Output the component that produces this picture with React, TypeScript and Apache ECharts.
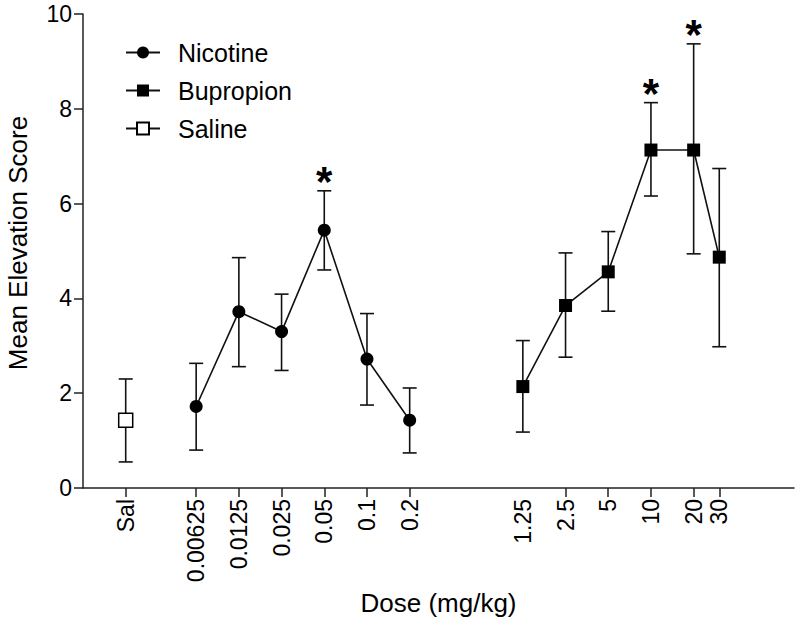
import React, { useEffect, useRef } from "react";
import * as echarts from "echarts";

// Dose labels along the x axis and their slot on the (hidden-value) x scale
const doseLabels = ["Sal", "0.00625", "0.0125", "0.025", "0.05", "0.1", "0.2", "1.25", "2.5", "5", "10", "20", "30"];
const doseSlots = [1, 2.65, 3.65, 4.65, 5.65, 6.65, 7.65, 10.3, 11.3, 12.3, 13.3, 14.3, 14.9];
const untickedDoses = ["1.25"];

const salineDoses = ["Sal"];
const salineMean = [1.43];
const salineLow = [0.55];
const salineHigh = [2.3];

const nicotineDoses = ["0.00625", "0.0125", "0.025", "0.05", "0.1", "0.2"];
const nicotineMean = [1.72, 3.72, 3.3, 5.44, 2.72, 1.43];
const nicotineLow = [0.8, 2.56, 2.48, 4.6, 1.75, 0.74];
const nicotineHigh = [2.63, 4.86, 4.09, 6.27, 3.68, 2.11];

const bupropionDoses = ["1.25", "2.5", "5", "10", "20", "30"];
const bupropionMean = [2.14, 3.85, 4.56, 7.13, 7.13, 4.87];
const bupropionLow = [1.18, 2.76, 3.73, 6.16, 4.94, 2.98];
const bupropionHigh = [3.11, 4.96, 5.41, 8.13, 9.37, 6.74];

const significantDoses = ["0.05", "10", "20"];

const yTicks = [0, 2, 4, 6, 8, 10];

const FONT = "'Liberation Sans', Arial, Helvetica, sans-serif";

const slotOf = (d: string) => doseSlots[doseLabels.indexOf(d)];

export default function App() {
  const ref = useRef<HTMLDivElement>(null);

  useEffect(() => {
    if (!ref.current) return;
    const chart = echarts.init(ref.current, null, { renderer: "svg" });

    const labelBySlot: Record<string, string> = {};
    doseSlots.forEach((s, i) => (labelBySlot[s.toFixed(2)] = doseLabels[i]));
    const tickSlots = doseSlots.filter((_, i) => !untickedDoses.includes(doseLabels[i]));

    const pts = (doses: string[], means: number[]) => doses.map((d, i) => [slotOf(d), means[i]]);
    const errs = (doses: string[], lo: number[], hi: number[]) => doses.map((d, i) => [slotOf(d), lo[i], hi[i]]);

    const allErr = [
      ...errs(salineDoses, salineLow, salineHigh),
      ...errs(nicotineDoses, nicotineLow, nicotineHigh),
      ...errs(bupropionDoses, bupropionLow, bupropionHigh),
    ];
    const allHigh: Record<string, number> = {};
    salineDoses.forEach((d, i) => (allHigh[d] = salineHigh[i]));
    nicotineDoses.forEach((d, i) => (allHigh[d] = nicotineHigh[i]));
    bupropionDoses.forEach((d, i) => (allHigh[d] = bupropionHigh[i]));
    const starData = significantDoses.map((d) => [slotOf(d), allHigh[d]]);

    const lineColor = "#111";

    chart.setOption({
      animation: false,
      backgroundColor: "#fff",
      textStyle: { fontFamily: FONT },
      grid: { left: 83, right: 6, top: 14, bottom: 130, containLabel: false, outerBoundsMode: "none" },
      legend: {
        data: ["Nicotine", "Bupropion", "Saline"],
        orient: "vertical",
        left: 120,
        top: 35,
        itemWidth: 34,
        itemHeight: 15,
        itemGap: 13,
        textStyle: { fontSize: 25, color: "#000", fontFamily: FONT, padding: [0, 0, 0, 13] },
      },
      xAxis: {
        type: "value",
        min: 0,
        max: 16.65,
        name: "Dose (mg/kg)",
        nameLocation: "middle",
        nameGap: 93,
        nameTextStyle: { fontSize: 26, color: "#000", fontFamily: FONT },
        axisLine: { show: true, onZero: false, lineStyle: { color: "#222", width: 1.5 } },
        axisTick: { show: true, length: 9, customValues: tickSlots, lineStyle: { color: "#222", width: 1.5 } },
        axisLabel: {
          customValues: doseSlots,
          rotate: 90,
          margin: 11,
          fontSize: 23,
          color: "#000",
          fontFamily: FONT,
          formatter: (v: number) => labelBySlot[Number(v).toFixed(2)] ?? "",
        },
        splitLine: { show: false },
      },
      yAxis: {
        type: "value",
        min: 0,
        max: 10,
        interval: 2,
        name: "Mean Elevation Score",
        nameLocation: "middle",
        nameGap: 52,
        nameTextStyle: { fontSize: 26, color: "#000", fontFamily: FONT, padding: [0, 0, 0, 16] },
        axisLine: { show: true, lineStyle: { color: "#222", width: 1.5 } },
        axisTick: { show: true, length: 9, lineStyle: { color: "#222", width: 1.5 } },
        axisLabel: {
          margin: 11,
          fontSize: 23,
          color: "#000",
          fontFamily: FONT,
          customValues: yTicks,
        },
        splitLine: { show: false },
      },
      series: [
        {
          type: "custom",
          name: "errors",
          z: 1,
          data: allErr,
          renderItem: (params: any, api: any) => {
            const x = api.value(0);
            const top = api.coord([x, api.value(2)]);
            const bot = api.coord([x, api.value(1)]);
            const cap = 7;
            const style = { stroke: lineColor, lineWidth: 1.6 };
            return {
              type: "group",
              children: [
                { type: "line", shape: { x1: top[0], y1: top[1], x2: bot[0], y2: bot[1] }, style },
                { type: "line", shape: { x1: top[0] - cap, y1: top[1], x2: top[0] + cap, y2: top[1] }, style },
                { type: "line", shape: { x1: bot[0] - cap, y1: bot[1], x2: bot[0] + cap, y2: bot[1] }, style },
              ],
            };
          },
        },
        {
          type: "custom",
          name: "stars",
          z: 1,
          data: starData,
          renderItem: (params: any, api: any) => {
            const p = api.coord([api.value(0), api.value(1)]);
            return {
              type: "text",
              x: p[0],
              y: p[1] - 9,
              style: {
                text: "*",
                fontSize: 42,
                fontWeight: "bold",
                fontFamily: FONT,
                fill: "#000",
                align: "center",
                verticalAlign: "middle",
              },
            };
          },
        },
        {
          type: "line",
          name: "Nicotine",
          z: 3,
          data: pts(nicotineDoses, nicotineMean),
          symbol: "circle",
          symbolSize: 13,
          itemStyle: { color: "#000" },
          lineStyle: { color: lineColor, width: 1.6 },
        },
        {
          type: "line",
          name: "Bupropion",
          z: 3,
          data: pts(bupropionDoses, bupropionMean),
          symbol: "rect",
          symbolSize: 13,
          itemStyle: { color: "#000" },
          lineStyle: { color: lineColor, width: 1.6 },
        },
        {
          type: "line",
          name: "Saline",
          z: 3,
          data: pts(salineDoses, salineMean),
          symbol: "rect",
          symbolSize: 14,
          itemStyle: { color: "#fff", borderColor: "#000", borderWidth: 1.5 },
          lineStyle: { color: lineColor, width: 1.6 },
        },
      ],
    });

    return () => chart.dispose();
  }, []);

  return <div ref={ref} style={{ position: "fixed", left: 0, top: 0, width: 800, height: 618 }} />;
}
